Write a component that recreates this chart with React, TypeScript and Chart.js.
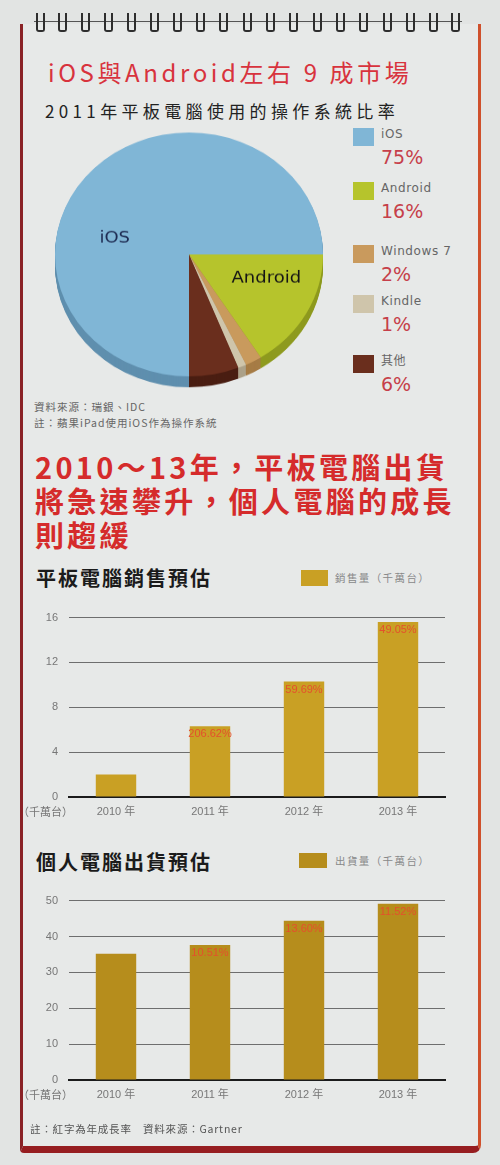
import React, { useEffect, useRef } from "react";
import { Chart, registerables } from "chart.js";

Chart.register(...registerables);

// ---------- data ----------
const pieLabels = ["iOS", "Android", "Windows 7", "Kindle", "其他"];
const pieValues = [75, 16, 2, 1, 6];
const pieColors = ["#80b6d6", "#b6c42c", "#c99a5d", "#cfc5ab", "#6a2e1d"];
const pieSideColors = ["#5f8fae", "#8e9a1e", "#a67c46", "#aca189", "#4a1e12"];

const years = ["2010 年", "2011 年", "2012 年", "2013 年"];
const tabletSales = [2.0, 6.3, 10.3, 15.6];
const tabletGrowth = ["", "206.62%", "59.69%", "49.05%"];
const tabletMax = 16;
const tabletStep = 4;

const pcShipments = [35.2, 37.6, 44.4, 49.1];
const pcGrowth = ["", "10.51%", "13.60%", "11.52%"];
const pcMax = 50;
const pcStep = 10;

const CJK = '"Noto Sans CJK TC", "Noto Sans", sans-serif';
const LATIN = '"Liberation Sans", "Noto Sans CJK TC", sans-serif';

// ---------- pie plugins ----------
const pieDepth = {
  id: "pieDepth",
  beforeDatasetsDraw(chart: any) {
    const ctx = chart.ctx;
    const meta = chart.getDatasetMeta(0);
    const depth = 12;
    ctx.save();
    for (let d = depth; d >= 1; d--) {
      meta.data.forEach((arc: any, i: number) => {
        const p = arc.getProps(["x", "y", "startAngle", "endAngle", "outerRadius"], true);
        ctx.beginPath();
        ctx.moveTo(p.x, p.y + d);
        ctx.arc(p.x, p.y + d, p.outerRadius, p.startAngle, p.endAngle);
        ctx.closePath();
        ctx.fillStyle = pieSideColors[i];
        ctx.fill();
      });
    }
    ctx.restore();
  },
};

const pieText = {
  id: "pieText",
  afterDatasetsDraw(chart: any) {
    const ctx = chart.ctx;
    const meta = chart.getDatasetMeta(0);
    const spots: Record<number, { f: number; r: number; color: string; size: number }> = {
      0: { f: 0.383, r: 0.57, color: "#1d2b52", size: 18 },
      1: { f: 0.33, r: 0.61, color: "#151515", size: 18 },
    };
    ctx.save();
    Object.keys(spots).forEach((k) => {
      const i = Number(k);
      const s = spots[i];
      const arc = meta.data[i];
      const p = arc.getProps(["x", "y", "startAngle", "endAngle", "outerRadius"], true);
      const a = p.startAngle + s.f * (p.endAngle - p.startAngle);
      const x = p.x + Math.cos(a) * p.outerRadius * s.r;
      const y = p.y + Math.sin(a) * p.outerRadius * s.r;
      ctx.font = `${s.size}px "DejaVu Sans", sans-serif`;
      ctx.fillStyle = s.color;
      ctx.textAlign = "center";
      ctx.textBaseline = "middle";
      ctx.fillText(pieLabels[i], x, y);
    });
    ctx.restore();
  },
};

function PieChart() {
  const ref = useRef<HTMLCanvasElement>(null);
  useEffect(() => {
    const chart = new Chart(ref.current!, {
      type: "pie",
      data: {
        labels: pieLabels,
        datasets: [{ data: pieValues, backgroundColor: pieColors, borderWidth: 0 }],
      },
      options: {
        responsive: false,
        animation: false,
        rotation: 180,
        layout: { padding: { left: 6, right: 6, top: 6, bottom: 21 } },
        plugins: { legend: { display: false }, tooltip: { enabled: false } },
      },
      plugins: [pieDepth, pieText],
    } as any);
    return () => chart.destroy();
  }, []);
  return (
    <div
      style={{
        position: "absolute",
        left: 49,
        top: 127,
        width: 280,
        height: 295,
        transform: "scaleY(0.91)",
        transformOrigin: "top left",
      }}
    >
      <canvas ref={ref} width={280} height={295} />
    </div>
  );
}

// ---------- bar chart ----------
const growthLabels = {
  id: "growthLabels",
  afterDatasetsDraw(chart: any, _args: any, opts: any) {
    const ctx = chart.ctx;
    const meta = chart.getDatasetMeta(0);
    ctx.save();
    ctx.font = `11px ${LATIN}`;
    ctx.fillStyle = "#e4502c";
    ctx.textAlign = "center";
    ctx.textBaseline = "middle";
    meta.data.forEach((bar: any, i: number) => {
      const t = opts.labels[i];
      if (!t) return;
      ctx.fillText(t, bar.x, bar.y + 8);
    });
    ctx.restore();
  },
};

function BarChart(props: {
  values: number[];
  growth: string[];
  color: string;
  max: number;
  step: number;
  top: number;
  label: string;
}) {
  const ref = useRef<HTMLCanvasElement>(null);
  useEffect(() => {
    const chart = new Chart(ref.current!, {
      type: "bar",
      data: {
        labels: years,
        datasets: [
          {
            label: props.label,
            data: props.values,
            backgroundColor: props.color,
            borderWidth: 0,
            categoryPercentage: 1,
            barPercentage: 0.43,
          },
        ],
      },
      options: {
        responsive: false,
        animation: false,
        layout: { padding: { left: 0, right: 15, top: 10, bottom: 0 } },
        plugins: {
          legend: { display: false },
          tooltip: { enabled: false },
          growthLabels: { labels: props.growth },
        },
        scales: {
          x: {
            grid: { display: false, drawTicks: false },
            border: { display: true, color: "#1b1b1b", width: 2 },
            ticks: { color: "#777", font: { size: 11, family: LATIN }, padding: 8 },
            afterFit(scale: any) {
              scale.height = 28;
            },
          },
          y: {
            min: 0,
            max: props.max,
            ticks: {
              stepSize: props.step,
              color: "#777",
              font: { size: 11, family: LATIN },
              padding: 11,
            },
            grid: {
              drawTicks: false,
              color: (c: any) => (c.tick && c.tick.value === 0 ? "rgba(0,0,0,0)" : "#6e6e6e"),
              lineWidth: 1,
            },
            border: { display: false },
            afterFit(scale: any) {
              scale.width = 69;
            },
          },
        },
      },
      plugins: [growthLabels],
    } as any);
    return () => chart.destroy();
  }, []);
  return (
    <canvas
      ref={ref}
      width={460}
      height={225}
      style={{ position: "absolute", left: 0, top: props.top }}
    />
  );
}

// ---------- page ----------
const abs = (o: React.CSSProperties): React.CSSProperties => ({ position: "absolute", ...o });

function Rings() {
  const xs = [40, 62, 85, 108, 131, 154, 177, 200, 223, 247, 270, 293, 317, 340, 363, 387, 410, 433, 455];
  return (
    <>
      <div style={abs({ left: 34, top: 21, width: 428, height: 1, background: "#555" })} />
      {xs.map((x, i) => (
        <div
          key={i}
          style={abs({
            left: x - 4,
            top: 13,
            width: 5,
            height: 17,
            border: "2px solid #2e2e2e",
            borderTop: "none",
            borderRadius: "0 0 3px 3px",
          })}
        />
      ))}
    </>
  );
}

function LegendItem(p: { top: number; color: string; label: string; pct: string }) {
  return (
    <>
      <div style={abs({ left: 353, top: p.top, width: 21, height: 18, background: p.color })} />
      <div
        style={abs({
          left: 381,
          top: p.top - 1,
          fontFamily: '"DejaVu Sans", "Noto Sans CJK TC", sans-serif',
          fontSize: 12,
          letterSpacing: 0.6,
          color: "#666",
          lineHeight: "14px",
          whiteSpace: "nowrap",
        })}
      >
        {p.label}
      </div>
      <div
        style={abs({
          left: 381,
          top: p.top + 18,
          fontFamily: '"DejaVu Sans", sans-serif',
          fontSize: 19,
          color: "#c63f4a",
          lineHeight: "22px",
        })}
      >
        {p.pct}
      </div>
    </>
  );
}

export default function App() {
  const legendTops = [128, 182, 245, 295, 355];
  return (
    <div
      style={abs({
        left: 0,
        top: 0,
        width: 500,
        height: 1165,
        background: "#e2e4e3",
        overflow: "hidden",
        fontFamily: CJK,
      })}
    >
      {/* page */}
      <div
        style={abs({
          left: 20,
          top: 24,
          width: 455,
          height: 1122,
          background: "#e7e9e8",
          borderLeft: "3px solid #8a2226",
          borderRight: "3px solid #cf502c",
          borderBottom: "7px solid #961d20",
          borderBottomRightRadius: 8,
          borderBottomLeftRadius: 4,
        })}
      />
      <Rings />

      <div
        style={abs({
          left: 48,
          top: 59,
          fontSize: 24,
          lineHeight: "26px",
          letterSpacing: 3.6,
          color: "#d8333d",
          whiteSpace: "nowrap",
        })}
      >
        iOS與Android左右 9 成市場
      </div>
      <div
        style={abs({
          left: 45,
          top: 101,
          fontSize: 17,
          lineHeight: "20px",
          letterSpacing: 4.35,
          color: "#222",
          whiteSpace: "nowrap",
        })}
      >
        2011年平板電腦使用的操作系統比率
      </div>

      <PieChart />

      {pieLabels.map((l, i) => (
        <LegendItem key={l} top={legendTops[i]} color={pieColors[i]} label={l} pct={pieValues[i] + "%"} />
      ))}

      <div
        style={abs({
          left: 34,
          top: 399,
          fontSize: 10.5,
          lineHeight: "16px",
          letterSpacing: 1,
          color: "#666",
          whiteSpace: "nowrap",
        })}
      >
        資料來源：瑞銀、IDC
        <br />
        註：蘋果iPad使用iOS作為操作系統
      </div>

      <div
        style={abs({
          left: 35,
          top: 449,
          fontSize: 29,
          lineHeight: "34px",
          letterSpacing: 3.3,
          fontWeight: 700,
          color: "#d52b2b",
          whiteSpace: "nowrap",
        })}
      >
        2010～13年，平板電腦出貨
        <br />
        將急速攀升，個人電腦的成長
        <br />
        則趨緩
      </div>

      {/* chart 1 header */}
      <div
        style={abs({
          left: 36,
          top: 566,
          fontSize: 20,
          lineHeight: "24px",
          letterSpacing: 2,
          fontWeight: 700,
          color: "#1b1b1b",
          whiteSpace: "nowrap",
        })}
      >
        平板電腦銷售預估
      </div>
      <div style={abs({ left: 301, top: 570, width: 27, height: 16, background: "#c9a024" })} />
      <div
        style={abs({ left: 335, top: 571, fontSize: 10.5, lineHeight: "14px", letterSpacing: 1.4, color: "#888", whiteSpace: "nowrap" })}
      >
        銷售量（千萬台）
      </div>
      <BarChart values={tabletSales} growth={tabletGrowth} color="#c9a024" max={tabletMax} step={tabletStep} top={600} label="銷售量（千萬台）" />
      <div style={abs({ left: 18, top: 804, fontSize: 11, lineHeight: "14px", color: "#777", whiteSpace: "nowrap" })}>
        （千萬台）
      </div>

      {/* chart 2 header */}
      <div
        style={abs({
          left: 36,
          top: 850,
          fontSize: 20,
          lineHeight: "24px",
          letterSpacing: 2,
          fontWeight: 700,
          color: "#1b1b1b",
          whiteSpace: "nowrap",
        })}
      >
        個人電腦出貨預估
      </div>
      <div style={abs({ left: 299, top: 853, width: 28, height: 15, background: "#b68d1c" })} />
      <div
        style={abs({ left: 335, top: 854, fontSize: 10.5, lineHeight: "14px", letterSpacing: 1.4, color: "#888", whiteSpace: "nowrap" })}
      >
        出貨量（千萬台）
      </div>
      <BarChart values={pcShipments} growth={pcGrowth} color="#b68d1c" max={pcMax} step={pcStep} top={883} label="出貨量（千萬台）" />
      <div style={abs({ left: 18, top: 1087, fontSize: 11, lineHeight: "14px", color: "#777", whiteSpace: "nowrap" })}>
        （千萬台）
      </div>

      <div
        style={abs({ left: 30, top: 1122, fontSize: 10.5, lineHeight: "14px", letterSpacing: 0.8, color: "#555", whiteSpace: "nowrap" })}
      >
        註：紅字為年成長率　資料來源：Gartner
      </div>
    </div>
  );
}
